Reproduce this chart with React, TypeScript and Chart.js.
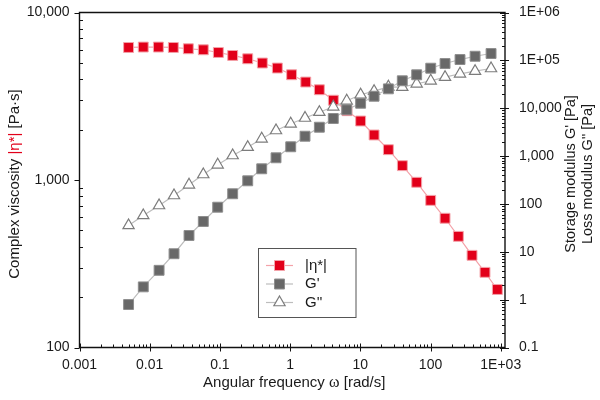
import React, { useEffect, useRef } from 'react';
import { Chart, registerables } from 'chart.js';

Chart.register(...registerables);

// ---- data ----
const etaFreq = [0.005, 0.0081, 0.0133, 0.0217, 0.0355, 0.058, 0.095, 0.152, 0.249, 0.402, 0.658, 1.05, 1.67, 2.61, 4.13, 6.47, 10.1, 15.7, 25.1, 39.7, 63.5, 100.5, 161, 249, 390, 597, 895];
const etaValues = [6183, 6218, 6218, 6183, 6075, 5990, 5772, 5540, 5294, 4993, 4660, 4250, 3845, 3458, 2995, 2593, 2250, 1857, 1517, 1218, 969, 756, 591, 461, 355, 281, 222];

const modFreq = [0.005, 0.0081, 0.0136, 0.0222, 0.0363, 0.058, 0.093, 0.152, 0.249, 0.394, 0.63, 1.02, 1.63, 2.61, 4.12, 6.4, 10.1, 15.7, 25.1, 39.6, 63.5, 100.7, 161, 263, 431, 728];
const storageModulus = [0.79, 1.85, 4.1, 9.1, 21.9, 43, 85.5, 163, 304, 542, 920, 1563, 2600, 4010, 6100, 9270, 12700, 17800, 25400, 37400, 49900, 68600, 85900, 104000, 122000, 139000];
const lossModulus = [35.5, 57.4, 92.8, 150, 251, 412, 657, 1028, 1534, 2297, 3420, 4720, 6250, 8260, 10700, 14300, 19100, 22700, 28000, 27500, 32400, 37400, 44500, 52400, 59400, 67600];

const xTickValues = [0.001, 0.01, 0.1, 1, 10, 100, 1000];
const xTickLabels = ['0.001', '0.01', '0.1', '1', '10', '100', '1E+03'];
const leftTickValues = [100, 1000, 10000];
const leftTickLabels = ['100', '1,000', '10,000'];
const rightTickValues = [0.1, 1, 10, 100, 1000, 10000, 100000, 1000000];
const rightTickLabels = ['0.1', '1', '10', '100', '1,000', '10,000', '1E+05', '1E+06'];

const seriesLabels = ['|η*|', "G'", "G''"];

const FONT = "'Liberation Sans', Arial, Helvetica, sans-serif";
const RED = '#e2001a';
const RED_LINE = '#f4a2a9';
const GRAY = '#686868';
const GRAY_BORDER = '#8e8e8e';
const GRAY_LINE = '#bdbdbd';
const TRI = '#7c7c7c';

function minorValues(min: number, max: number) {
  const out: { v: number; major: boolean }[] = [];
  const lo = Math.floor(Math.log10(min));
  const hi = Math.ceil(Math.log10(max));
  for (let e = lo; e <= hi; e++) {
    for (let m = 1; m <= 9; m++) {
      const v = m * Math.pow(10, e);
      if (v >= min * 0.9999 && v <= max * 1.0001) out.push({ v, major: m === 1 });
    }
  }
  return out;
}

function drawSegments(ctx: CanvasRenderingContext2D, segs: { t: string; c: string; f?: string }[], cx: number, cy: number, rot: number, font: string) {
  ctx.save();
  ctx.translate(cx, cy);
  ctx.rotate(rot);
  ctx.textBaseline = 'middle';
  ctx.textAlign = 'left';
  let total = 0;
  const widths = segs.map((s) => {
    ctx.font = s.f || font;
    const w = ctx.measureText(s.t).width;
    total += w;
    return w;
  });
  let x = -total / 2;
  segs.forEach((s, i) => {
    ctx.font = s.f || font;
    ctx.fillStyle = s.c;
    ctx.fillText(s.t, x, 0);
    x += widths[i];
  });
  ctx.restore();
}

function marker(ctx: CanvasRenderingContext2D, kind: string, x: number, y: number) {
  ctx.save();
  if (kind === 'redrect' || kind === 'grayrect') {
    const s = 5;
    ctx.fillStyle = kind === 'redrect' ? RED : GRAY;
    ctx.strokeStyle = kind === 'redrect' ? RED_LINE : GRAY_BORDER;
    ctx.lineWidth = 1;
    ctx.beginPath();
    ctx.rect(x - s, y - s, 2 * s, 2 * s);
    ctx.fill();
    ctx.stroke();
  } else {
    const r = 6.5;
    ctx.fillStyle = '#fff';
    ctx.strokeStyle = TRI;
    ctx.lineWidth = 1.2;
    ctx.beginPath();
    ctx.moveTo(x, y - r);
    ctx.lineTo(x + r * Math.sin((2 * Math.PI) / 3), y - r * Math.cos((2 * Math.PI) / 3));
    ctx.lineTo(x - r * Math.sin((2 * Math.PI) / 3), y - r * Math.cos((2 * Math.PI) / 3));
    ctx.closePath();
    ctx.fill();
    ctx.stroke();
  }
  ctx.restore();
}

const framePlugin = {
  id: 'frame',
  afterDraw(chart: any) {
    const { ctx, chartArea: a, scales } = chart;
    ctx.save();
    ctx.strokeStyle = '#111';
    ctx.lineWidth = 1.4;
    ctx.beginPath();
    ctx.rect(a.left, a.top, a.right - a.left, a.bottom - a.top);
    ctx.stroke();

    ctx.lineWidth = 1;
    ctx.beginPath();
    const xs = scales.x;
    minorValues(xs.min, xs.max).forEach(({ v, major }) => {
      const px = Math.round(xs.getPixelForValue(v)) + 0.5;
      if (major) {
        ctx.moveTo(px, a.bottom - 4);
        ctx.lineTo(px, a.bottom + 4);
      } else {
        ctx.moveTo(px, a.bottom - 3);
        ctx.lineTo(px, a.bottom);
      }
    });
    const yl = scales.y;
    minorValues(yl.min, yl.max).forEach(({ v, major }) => {
      const py = Math.round(yl.getPixelForValue(v)) + 0.5;
      if (major) {
        ctx.moveTo(a.left - 5, py);
        ctx.lineTo(a.left, py);
      } else {
        ctx.moveTo(a.left, py);
        ctx.lineTo(a.left + 3.5, py);
      }
    });
    const yr = scales.y2;
    minorValues(yr.min, yr.max).forEach(({ v, major }) => {
      const py = Math.round(yr.getPixelForValue(v)) + 0.5;
      if (major) {
        ctx.moveTo(a.right - 5, py);
        ctx.lineTo(a.right + 4, py);
      } else {
        ctx.moveTo(a.right - 3, py);
        ctx.lineTo(a.right, py);
      }
    });
    ctx.stroke();

    // axis titles
    const base = `15px ${FONT}`;
    drawSegments(ctx, [
      { t: 'Angular frequency ', c: '#1a1a1a' },
      { t: 'ω', c: '#1a1a1a', f: `16px 'Liberation Serif', 'Times New Roman', serif` },
      { t: ' [rad/s]', c: '#1a1a1a' },
    ], (a.left + a.right) / 2 + 2, 383, 0, base);
    drawSegments(ctx, [
      { t: 'Complex viscosity ', c: '#1a1a1a' },
      { t: seriesLabels[0], c: RED },
      { t: ' [Pa·s]', c: '#1a1a1a' },
    ], 15, 184, -Math.PI / 2, base);
    const rbase = `14.5px ${FONT}`;
    drawSegments(ctx, [{ t: "Storage modulus G' [Pa]", c: '#1a1a1a' }], 571, 174, -Math.PI / 2, rbase);
    drawSegments(ctx, [{ t: "Loss modulus G'' [Pa]", c: '#1a1a1a' }], 588, 174, -Math.PI / 2, rbase);

    // legend
    const lx = 258.5, ly = 248.5, lw = 97.5, lh = 69;
    ctx.fillStyle = '#fff';
    ctx.fillRect(lx, ly, lw, lh);
    ctx.strokeStyle = '#555';
    ctx.lineWidth = 1;
    ctx.strokeRect(lx, ly, lw, lh);
    const rows = [
      { y: 265.5, line: RED_LINE, kind: 'redrect', label: seriesLabels[0] },
      { y: 284, line: GRAY_LINE, kind: 'grayrect', label: seriesLabels[1] },
      { y: 302.5, line: GRAY_LINE, kind: 'tri', label: seriesLabels[2] },
    ];
    rows.forEach((r) => {
      ctx.strokeStyle = r.line;
      ctx.lineWidth = 1.2;
      ctx.beginPath();
      ctx.moveTo(266, r.y);
      ctx.lineTo(293, r.y);
      ctx.stroke();
      marker(ctx, r.kind, 279.5, r.y);
      ctx.fillStyle = '#1a1a1a';
      ctx.font = `15px ${FONT}`;
      ctx.textBaseline = 'middle';
      ctx.textAlign = 'left';
      ctx.fillText(r.label, 305, r.y);
    });
    ctx.restore();
  },
};

function noPad(s: any) {
  s.paddingTop = 0;
  s.paddingBottom = 0;
  s.paddingLeft = 0;
  s.paddingRight = 0;
}

export default function App() {
  const ref = useRef<HTMLCanvasElement | null>(null);
  useEffect(() => {
    if (!ref.current) return;
    const tickFont = { family: FONT, size: 14 };
    const chart = new Chart(ref.current, {
      type: 'scatter',
      data: {
        datasets: [
          {
            label: seriesLabels[1],
            data: modFreq.map((x, i) => ({ x, y: storageModulus[i] })),
            yAxisID: 'y2',
            showLine: true,
            borderColor: GRAY_LINE,
            borderWidth: 1.2,
            pointStyle: 'rect',
            pointRadius: 7,
            pointBackgroundColor: GRAY,
            pointBorderColor: GRAY_BORDER,
            pointBorderWidth: 1,
          },
          {
            label: seriesLabels[2],
            data: modFreq.map((x, i) => ({ x, y: lossModulus[i] })),
            yAxisID: 'y2',
            showLine: true,
            borderColor: GRAY_LINE,
            borderWidth: 1.2,
            pointStyle: 'triangle',
            pointRadius: 6.5,
            pointBackgroundColor: '#ffffff',
            pointBorderColor: TRI,
            pointBorderWidth: 1.2,
          },
          {
            label: seriesLabels[0],
            data: etaFreq.map((x, i) => ({ x, y: etaValues[i] })),
            yAxisID: 'y',
            showLine: true,
            borderColor: RED_LINE,
            borderWidth: 1.2,
            pointStyle: 'rect',
            pointRadius: 7,
            pointBackgroundColor: RED,
            pointBorderColor: RED_LINE,
            pointBorderWidth: 1,
          },
        ],
      },
      options: {
        animation: false,
        responsive: true,
        maintainAspectRatio: false,
        layout: { padding: { top: 12.5, left: 0, right: 0, bottom: 0 } },
        plugins: { legend: { display: false }, tooltip: { enabled: false } },
        scales: {
          x: {
            type: 'logarithmic',
            position: 'bottom',
            min: 0.001,
            max: 1150,
            grid: { display: false, drawTicks: false },
            border: { display: false },
            ticks: {
              autoSkip: false,
              maxRotation: 0,
              padding: 9,
              font: tickFont,
              color: '#1a1a1a',
              callback: (_v: any, i: number) => xTickLabels[i],
            },
            afterBuildTicks: (s: any) => {
              s.ticks = xTickValues.map((value) => ({ value }));
            },
            afterFit: (s: any) => {
              s.height = 52.5;
              noPad(s);
            },
          },
          y: {
            type: 'logarithmic',
            position: 'left',
            min: 100,
            max: 10000,
            grid: { display: false, drawTicks: false },
            border: { display: false },
            ticks: {
              autoSkip: false,
              padding: 10,
              font: tickFont,
              color: '#1a1a1a',
              callback: (_v: any, i: number) => leftTickLabels[i],
            },
            afterBuildTicks: (s: any) => {
              s.ticks = leftTickValues.map((value) => ({ value }));
            },
            afterFit: (s: any) => {
              s.width = 79.5;
              noPad(s);
            },
          },
          y2: {
            type: 'logarithmic',
            position: 'right',
            min: 0.1,
            max: 1000000,
            grid: { display: false, drawTicks: false },
            border: { display: false },
            ticks: {
              autoSkip: false,
              padding: 14,
              font: tickFont,
              color: '#1a1a1a',
              callback: (_v: any, i: number) => rightTickLabels[i],
            },
            afterBuildTicks: (s: any) => {
              s.ticks = rightTickValues.map((value) => ({ value }));
            },
            afterFit: (s: any) => {
              s.width = 95;
              noPad(s);
            },
          },
        },
      },
      plugins: [framePlugin],
    } as any);
    return () => chart.destroy();
  }, []);

  return (
    <div style={{ position: 'absolute', left: 0, top: 0, width: 600, height: 400, background: '#fff' }}>
      <canvas ref={ref} />
    </div>
  );
}
